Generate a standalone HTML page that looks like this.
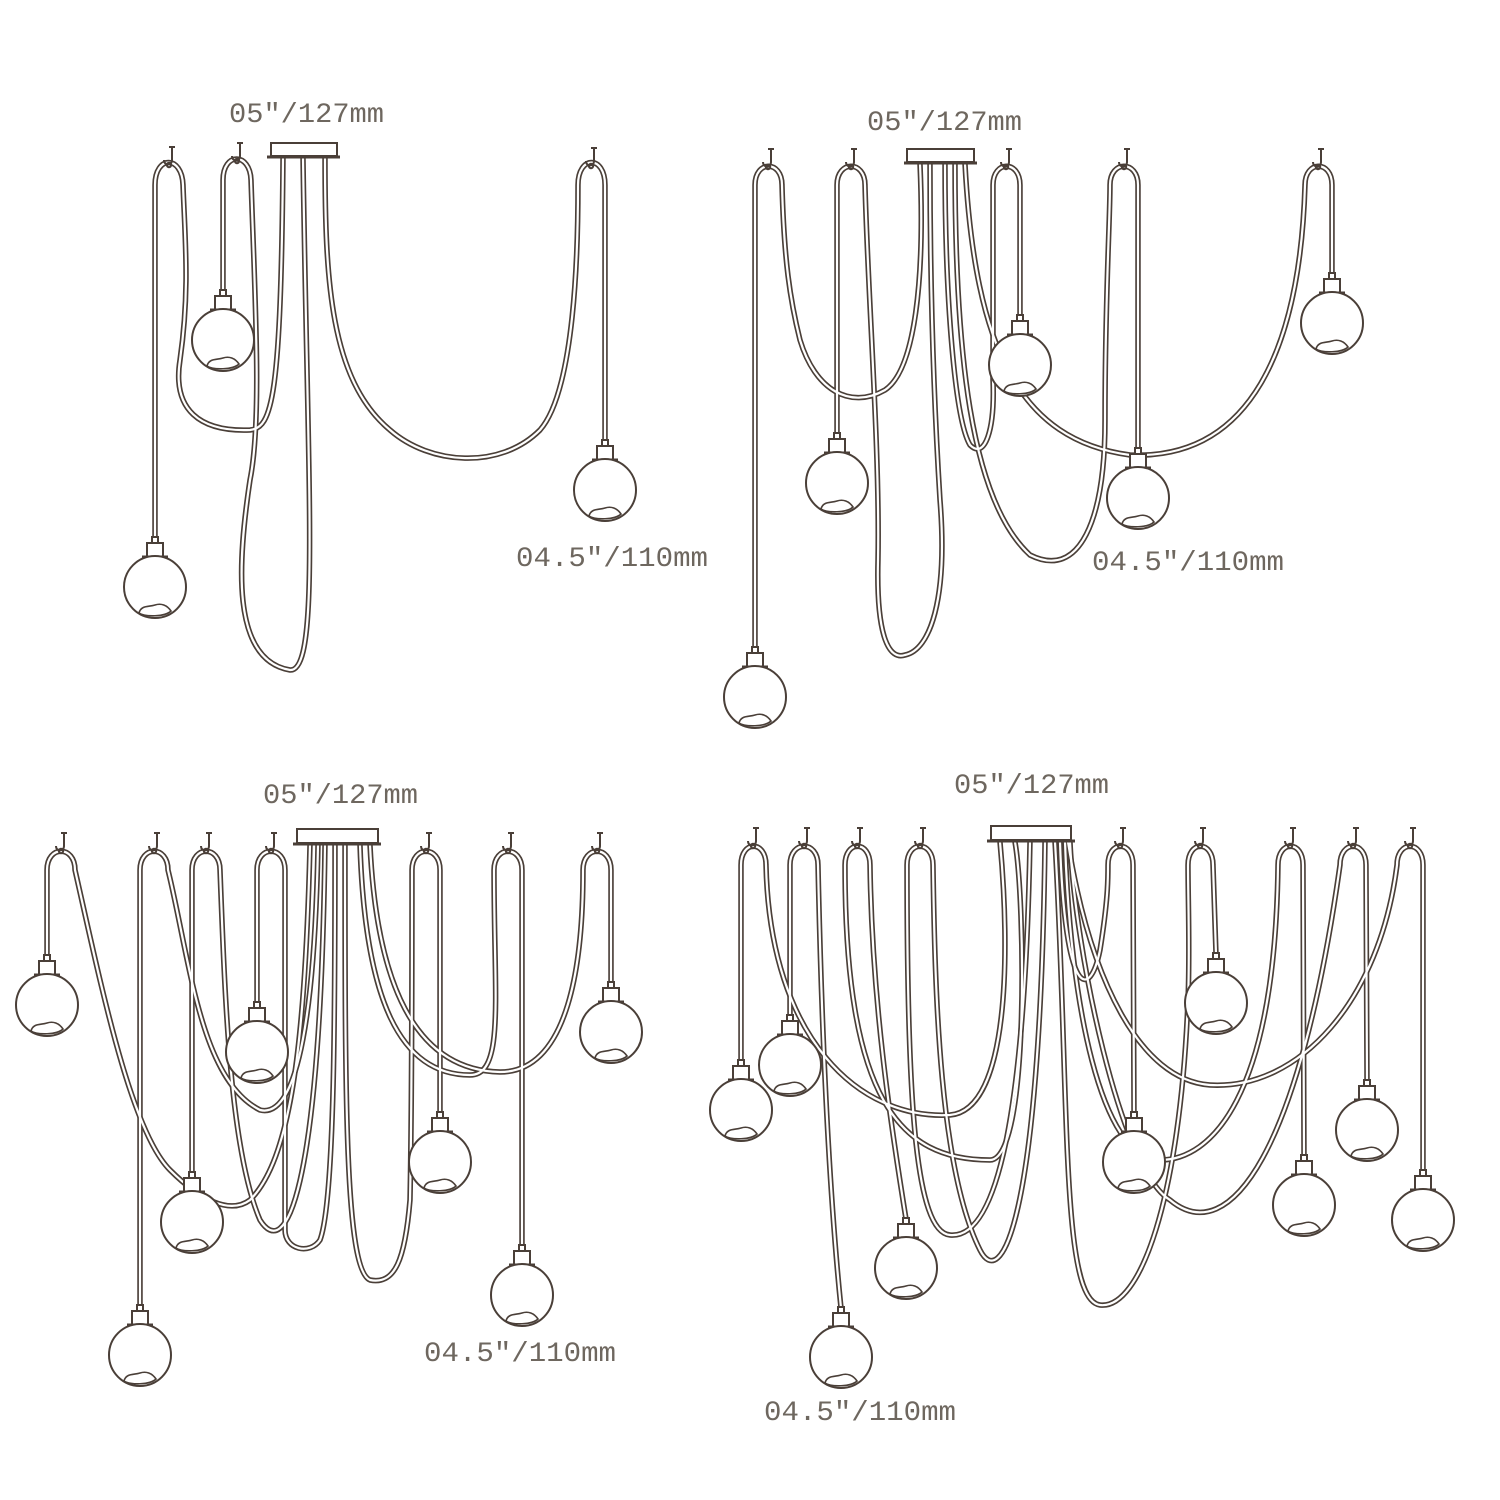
<!DOCTYPE html>
<html><head><meta charset="utf-8"><style>
html,body{margin:0;padding:0;background:#fff;}
svg{display:block;}
text{font-family:"Liberation Mono",monospace;font-size:28px;fill:#6e675f;}
</style></head><body>
<svg width="1500" height="1500" viewBox="0 0 1500 1500" xmlns="http://www.w3.org/2000/svg">
<defs>
<g id="p" fill="#fff" stroke="#4a3f38" stroke-width="2">
  <rect x="-3" y="-50" width="6" height="6"/>
  <rect x="-8" y="-44" width="16" height="14"/>
  <line x1="-13" y1="-30" x2="13" y2="-30" stroke-width="3"/>
  <circle cx="0" cy="0" r="31"/>
  <path d="M-16 26 C-14 18 -6 20 0 18 C6 16 12 18 16 24 C10 30 -10 30 -16 26Z" fill="none" stroke-width="1.6"/>
</g>
<g id="h" fill="none" stroke="#4a3f38" stroke-width="2">
  <path d="M3 -18 L3 -6 C3 0 -5 0 -5 -6"/>
  <line x1="0" y1="-19" x2="6" y2="-19"/>
  <circle cx="0" cy="-1" r="2.2"/>
</g>
<g id="cab" fill="none">
<!-- panel 1 -->
<path d="M155 538 L155 185 C155 155 182 155 183 185 C185 240 190 290 180 360 C172 410 200 432 250 430 C272 428 281 400 283 158"/>
<path d="M223 291 L223 180 C223 152 250 152 251 180 C255 300 262 420 250 480 C238 560 230 660 290 670 C320 672 308 500 303 158"/>
<path d="M325 158 C325 280 330 380 390 430 C430 465 500 470 540 430 C575 390 578 250 578 185 C578 155 605 155 605 185 L605 441"/>
<!-- panel 2 -->
<path d="M755 648 L755 185 C755 160 782 160 782 185 C784 260 790 300 800 340 C815 390 850 410 885 390 C915 370 925 280 920 164"/>
<path d="M837 434 L837 185 C837 160 865 160 865 185 C868 300 880 450 878 560 C876 640 890 660 905 655 C930 650 948 600 940 500 C935 420 930 300 930 164"/>
<path d="M945 164 C945 300 955 420 970 445 C985 460 995 430 993 380 L993 185 C993 160 1020 160 1020 185 L1020 316"/>
<path d="M955 164 C955 350 970 500 1030 555 C1080 580 1105 520 1105 420 C1105 300 1110 220 1110 185 C1110 160 1138 160 1138 185 L1138 449"/>
<path d="M965 164 C975 350 1020 440 1130 455 C1250 460 1300 350 1305 185 C1305 160 1332 160 1332 185 L1332 274"/>
<!-- panel 3 -->
<path d="M47 956 L47 870 C47 845 75 845 75 870 C100 980 130 1130 170 1170 C200 1200 230 1215 250 1200 C290 1160 305 1050 310 845"/>
<path d="M140 1306 L140 870 C140 845 168 845 168 870 C190 960 200 1080 260 1110 C300 1120 315 1000 318 845"/>
<path d="M192 1173 L192 870 C192 845 220 845 220 870 C225 1000 230 1150 260 1220 C285 1260 320 1200 325 845"/>
<path d="M257 1003 L257 870 C257 845 285 845 285 870 L285 1230 C285 1250 310 1255 320 1240 C335 1200 335 1000 335 845"/>
<path d="M345 845 C345 1100 345 1270 370 1280 C395 1285 405 1260 410 1200 C412 1100 412 950 412 870 C412 845 440 845 440 870 L440 1113"/>
<path d="M360 845 C365 1000 400 1075 470 1075 C505 1075 494 1000 494 870 C494 845 522 845 522 870 L522 1246"/>
<path d="M370 845 C375 950 400 1070 500 1072 C570 1072 583 960 583 870 C583 845 611 845 611 870 L611 983"/>
<!-- panel 4 -->
<path d="M741 1061 L741 865 C741 840 766 840 766 865 C770 1040 860 1120 950 1115 C1010 1110 1010 950 1000 842"/>
<path d="M790 1016 L790 865 C790 840 818 840 818 865 C822 1050 830 1200 841 1308"/>
<path d="M1015 842 C1025 900 1030 1160 990 1160 C900 1160 845 1100 845 865 C845 840 870 840 870 865 C872 1000 890 1120 906 1219"/>
<path d="M1030 842 C1025 1100 1000 1240 950 1235 C915 1232 907 1100 907 865 C907 840 933 840 933 865 C935 1000 940 1170 980 1250 C1000 1290 1040 1230 1045 842"/>
<path d="M1055 842 C1070 1100 1060 1300 1100 1305 C1140 1310 1180 1200 1188 1000 C1190 950 1188 900 1188 865 C1188 840 1213 840 1213 865 L1216 954"/>
<path d="M1060 842 C1065 1000 1090 1000 1100 950 C1108 900 1108 880 1108 865 C1108 840 1133 840 1133 865 L1134 1113"/>
<path d="M1065 842 C1070 1000 1100 1160 1160 1160 C1210 1160 1275 1100 1278 865 C1278 840 1303 840 1303 865 L1304 1156"/>
<path d="M1070 842 C1075 950 1120 1170 1170 1200 C1230 1250 1300 1150 1340 865 C1340 840 1366 840 1366 865 L1367 1081"/>
<path d="M1068 842 C1090 980 1140 1080 1210 1085 C1300 1090 1380 1000 1397 865 C1397 840 1423 840 1423 865 L1423 1171"/>
</g>
</defs>
<use href="#cab" stroke="#4a3f38" stroke-width="5.5"/>
<use href="#cab" stroke="#fff" stroke-width="2.2"/>

<!-- canopies -->
<g fill="#fff" stroke="#4a3f38" stroke-width="2">
<rect x="271" y="143" width="66" height="13"/><line x1="267" y1="157" x2="340" y2="157" stroke-width="3"/>
<rect x="907" y="149" width="67" height="13"/><line x1="904" y1="163" x2="977" y2="163" stroke-width="3"/>
<rect x="297" y="829" width="81" height="14"/><line x1="293" y1="844" x2="381" y2="844" stroke-width="3"/>
<rect x="991" y="826" width="80" height="14"/><line x1="987" y1="841" x2="1075" y2="841" stroke-width="3"/>
</g>

<!-- hooks -->
<use href="#h" x="169" y="166"/><use href="#h" x="237" y="162"/><use href="#h" x="591" y="167"/>
<use href="#h" x="768" y="168"/><use href="#h" x="851" y="168"/><use href="#h" x="1006" y="168"/><use href="#h" x="1124" y="168"/><use href="#h" x="1318" y="168"/>
<use href="#h" x="61" y="852"/><use href="#h" x="154" y="852"/><use href="#h" x="206" y="852"/><use href="#h" x="271" y="852"/><use href="#h" x="426" y="852"/><use href="#h" x="508" y="852"/><use href="#h" x="597" y="852"/>
<use href="#h" x="753" y="847"/><use href="#h" x="804" y="847"/><use href="#h" x="857" y="847"/><use href="#h" x="920" y="847"/><use href="#h" x="1120" y="847"/><use href="#h" x="1200" y="847"/><use href="#h" x="1290" y="847"/><use href="#h" x="1353" y="847"/><use href="#h" x="1410" y="847"/>

<!-- pendants -->
<use href="#p" x="155" y="587"/><use href="#p" x="223" y="340"/><use href="#p" x="605" y="490"/>
<use href="#p" x="755" y="697"/><use href="#p" x="837" y="483"/><use href="#p" x="1020" y="365"/><use href="#p" x="1138" y="498"/><use href="#p" x="1332" y="323"/>
<use href="#p" x="47" y="1005"/><use href="#p" x="192" y="1222"/><use href="#p" x="140" y="1355"/><use href="#p" x="257" y="1052"/><use href="#p" x="440" y="1162"/><use href="#p" x="522" y="1295"/><use href="#p" x="611" y="1032"/>
<use href="#p" x="741" y="1110"/><use href="#p" x="790" y="1065"/><use href="#p" x="906" y="1268"/><use href="#p" x="841" y="1357"/><use href="#p" x="1216" y="1003"/><use href="#p" x="1134" y="1162"/><use href="#p" x="1367" y="1130"/><use href="#p" x="1304" y="1205"/><use href="#p" x="1423" y="1220"/>

<!-- labels -->
<text x="229" y="122" textLength="155" lengthAdjust="spacingAndGlyphs">05"/127mm</text>
<text x="867" y="130" textLength="155" lengthAdjust="spacingAndGlyphs">05"/127mm</text>
<text x="263" y="803" textLength="155" lengthAdjust="spacingAndGlyphs">05"/127mm</text>
<text x="954" y="793" textLength="155" lengthAdjust="spacingAndGlyphs">05"/127mm</text>
<text x="516" y="566" textLength="192" lengthAdjust="spacingAndGlyphs">04.5"/110mm</text>
<text x="1092" y="570" textLength="192" lengthAdjust="spacingAndGlyphs">04.5"/110mm</text>
<text x="424" y="1361" textLength="192" lengthAdjust="spacingAndGlyphs">04.5"/110mm</text>
<text x="764" y="1420" textLength="192" lengthAdjust="spacingAndGlyphs">04.5"/110mm</text>
</svg>
</body></html>
